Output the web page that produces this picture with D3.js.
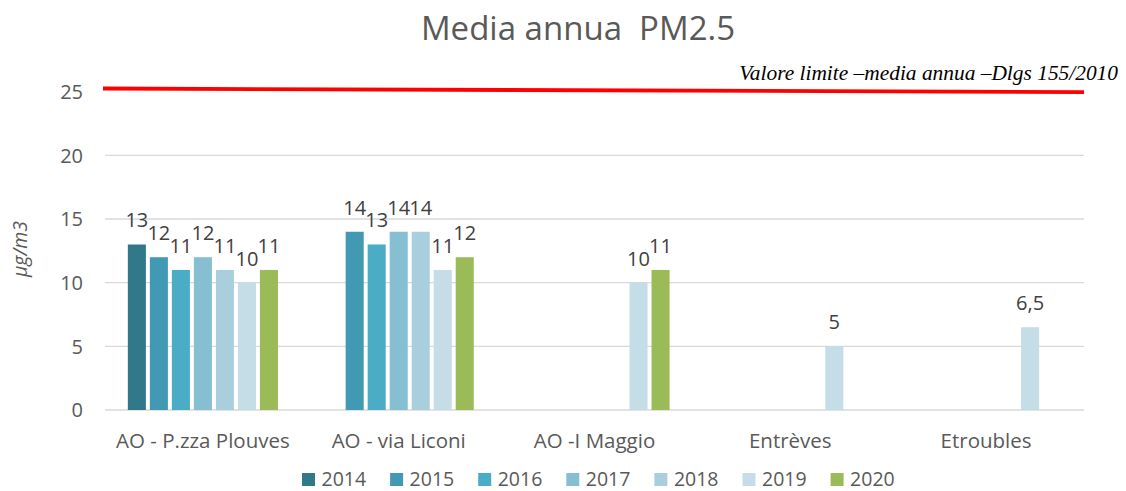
<!DOCTYPE html>
<html><head><meta charset="utf-8">
<script src="https://cdn.jsdelivr.net/npm/d3@7"></script>
<style>body{margin:0;background:#fff;}svg{display:block;}</style>
</head><body>
<svg id="c" width="1126" height="491"></svg>
<script>
const categories = ["AO - P.zza Plouves", "AO - via Liconi", "AO -I Maggio", "Entrèves", "Etroubles"];
const years = ["2014", "2015", "2016", "2017", "2018", "2019", "2020"];
const colors = ["#31788A", "#4299B3", "#4BACC6", "#86BFD1", "#A9CFDC", "#C5DDE6", "#9BBB59"];
// values per year, by category; null = no data
const v2014 = [13, null, null, null, null];
const v2015 = [12, 14, null, null, null];
const v2016 = [11, 13, null, null, null];
const v2017 = [12, 14, null, null, null];
const v2018 = [11, 14, null, null, null];
const v2019 = [10, 11, 10, 5, 6.5];
const v2020 = [11, 12, 11, null, null];
const series = [v2014, v2015, v2016, v2017, v2018, v2019, v2020];
const yTicks = [0, 5, 10, 15, 20, 25];
const limitLine = [25.25, 24.97]; // red limit line (left end, right end), as drawn
const limitLabel = "Valore limite –media annua –Dlgs 155/2010";
const title = "Media annua  PM2.5";

const svg = d3.select("#c");
const font = "'Open Sans', sans-serif";
const grey = "#595959";
const L = 105, R = 1084, T = 91.7, B = 410;

const y = d3.scaleLinear().domain([0, 25]).range([B, T]);
const x0 = d3.scaleBand().domain(categories).range([L, R]).paddingInner(0.213).paddingOuter(0.1065);
const x1 = d3.scaleBand().domain(years).range([0, x0.bandwidth()]).paddingInner(0.18).paddingOuter(0.09);

// grid
svg.append("g").selectAll("line").data(yTicks.filter(d => d < 25)).join("line")
  .attr("x1", L).attr("x2", R).attr("y1", d => y(d)).attr("y2", d => y(d))
  .attr("stroke", "#D9D9D9").attr("stroke-width", 1.3);

// y tick labels
svg.append("g").selectAll("text").data(yTicks).join("text")
  .attr("x", 83).attr("y", d => y(d)).attr("dy", "0.36em").attr("text-anchor", "end")
  .attr("font-family", font).attr("font-size", 20).attr("fill", grey).text(d => d);

// bars
const flat = [];
series.forEach((s, i) => s.forEach((v, j) => { if (v != null) flat.push({cat: categories[j], year: years[i], v, c: colors[i]}); }));
svg.append("g").selectAll("rect").data(flat).join("rect")
  .attr("x", d => x0(d.cat) + x1(d.year)).attr("width", x1.bandwidth())
  .attr("y", d => y(d.v)).attr("height", d => y(0) - y(d.v)).attr("fill", d => d.c);

// value labels
svg.append("g").selectAll("text").data(flat).join("text")
  .attr("x", d => x0(d.cat) + x1(d.year) + x1.bandwidth() / 2).attr("y", d => y(d.v) - 17)
  .attr("text-anchor", "middle").attr("font-family", font).attr("font-size", 20).attr("fill", "#404040")
  .text(d => String(d.v).replace(".", ","));

// category labels
svg.append("g").selectAll("text").data(categories).join("text")
  .attr("x", d => x0(d) + x0.bandwidth() / 2).attr("y", 448).attr("text-anchor", "middle")
  .attr("font-family", font).attr("font-size", 20.5).attr("fill", grey).text(d => d);

// limit line
svg.append("line").attr("x1", L - 2).attr("x2", R).attr("y1", y(limitLine[0])).attr("y2", y(limitLine[1]))
  .attr("stroke", "#FF0000").attr("stroke-width", 3.8);
svg.append("text").attr("x", 1118).attr("y", 80).attr("text-anchor", "end")
  .attr("font-family", "'Liberation Serif', 'Times New Roman', serif").attr("font-style", "italic")
  .attr("font-size", 21.4).attr("fill", "#000").text(limitLabel);

// title
svg.append("text").attr("x", 578).attr("y", 40).attr("text-anchor", "middle")
  .attr("font-family", font).attr("font-size", 33).attr("fill", grey)
  .style("white-space", "pre").text(title);

// y axis label
svg.append("text").attr("transform", "translate(27,249) rotate(-90)").attr("text-anchor", "middle")
  .attr("font-family", font).attr("font-style", "italic").attr("font-size", 19.5).attr("fill", grey).text("μg/m3");

// legend
const lg = svg.append("g").selectAll("g").data(years).join("g")
  .attr("transform", (d, i) => `translate(${302 + i * 88.1},0)`);
lg.append("rect").attr("x", 0).attr("y", 473).attr("width", 13).attr("height", 13).attr("fill", (d, i) => colors[i]);
lg.append("text").attr("x", 19.5).attr("y", 485.5).attr("font-family", font).attr("font-size", 19.5).attr("fill", grey).text(d => d);
</script>
</body></html>
